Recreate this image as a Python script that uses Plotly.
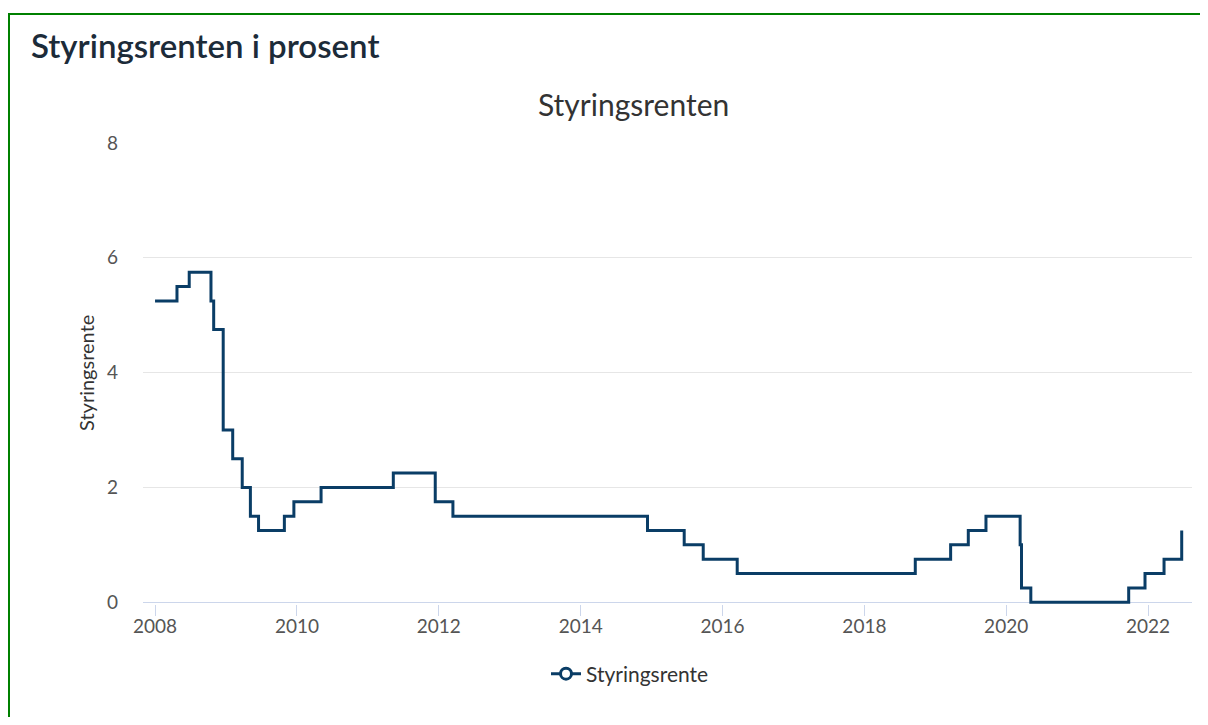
import plotly.graph_objects as go

# ---- data ----
dates = ["2008-01-01", "2008-04-23", "2008-06-25", "2008-10-15", "2008-10-29",
         "2008-12-17", "2009-02-04", "2009-03-25", "2009-05-06", "2009-06-17",
         "2009-10-28", "2009-12-16", "2010-05-05", "2011-05-12", "2011-12-14",
         "2012-03-14", "2014-12-11", "2015-06-18", "2015-09-24", "2016-03-17",
         "2018-09-20", "2019-03-21", "2019-06-20", "2019-09-19", "2020-03-13",
         "2020-03-20", "2020-05-07", "2021-09-23", "2021-12-16", "2022-03-24",
         "2022-06-23"]
rates = [5.25, 5.5, 5.75, 5.25, 4.75,
         3.0, 2.5, 2.0, 1.5, 1.25,
         1.5, 1.75, 2.0, 2.25, 1.75,
         1.5, 1.25, 1.0, 0.75, 0.5,
         0.75, 1.0, 1.25, 1.5, 1.0,
         0.25, 0.0, 0.25, 0.5, 0.75,
         1.25]
series_name = "Styringsrente"
y_ticks = [0, 2, 4, 6, 8]
x_tick_years = ["2008", "2010", "2012", "2014", "2016", "2018", "2020", "2022"]

# ---- geometry (page pixels; body has 8px default margin) ----
OFF = 8
W, H = 1208 - 2 * OFF, 725 - 2 * OFF
L, T, R, B = 143 - OFF, 143 - OFF, 1192 - OFF, 604 - OFF


def px(xp):
    return (xp - OFF - L) / (R - L)


def py(yp):
    return (B - (yp - OFF)) / (B - T)


NAVY = "#0a3d66"
FONT = "Lato"

fig = go.Figure()
fig.add_trace(go.Scatter(
    x=dates, y=rates, mode="lines", line=dict(color=NAVY, width=3, shape="hv"),
    showlegend=False, name=series_name, hoverinfo="x+y"))
fig.add_trace(go.Scatter(
    x=[None], y=[None], mode="lines+markers", name=series_name,
    line=dict(color=NAVY, width=3),
    marker=dict(symbol="circle", size=11, color="white",
                line=dict(color=NAVY, width=3))))

fig.update_layout(
    width=W, height=H,
    margin=dict(l=L, r=W - R, t=T, b=H - B, pad=0),
    paper_bgcolor="white", plot_bgcolor="white",
    font=dict(family=FONT, color="#333333"),
    showlegend=True,
    legend=dict(orientation="h", x=px(630), y=py(674), xanchor="center", yanchor="middle",
                font=dict(size=21, color="#333333"), bgcolor="rgba(0,0,0,0)"),
    xaxis=dict(type="date", range=["2007-10-31", "2022-08-15"],
               tickvals=[y + "-01-01" for y in x_tick_years], ticktext=x_tick_years,
               showgrid=False, showline=False, zeroline=False,
               ticks="outside", ticklen=11, tickcolor="#ccd6eb", tickwidth=1,
               ticklabelstandoff=-6,
               tickfont=dict(size=19, color="#555555")),
    yaxis=dict(range=[-0.03, 8], tickvals=y_ticks, showgrid=True, gridcolor="#e6e6e6",
               gridwidth=1, zeroline=True, zerolinecolor="#ccd6eb", zerolinewidth=1,
               showline=False, ticks="", ticklabelstandoff=24,
               tickfont=dict(size=19, color="#555555")),
)

annotations = [
    dict(text="Styringsrenten i prosent", x=px(29), y=py(45), xref="paper", yref="paper",
         xanchor="left", yanchor="middle", showarrow=False,
         font=dict(size=33, color="#1c2b39", family=FONT, weight=600)),
    dict(text="Styringsrenten", x=px(633), y=py(104), xref="paper", yref="paper",
         xanchor="center", yanchor="middle", showarrow=False,
         font=dict(size=30, color="#333333", family=FONT)),
    dict(text="Styringsrente", x=px(86), y=py(373), xref="paper", yref="paper",
         xanchor="center", yanchor="middle", showarrow=False, textangle=-90,
         font=dict(size=20, color="#333333", family=FONT)),
]
fig.update_layout(annotations=annotations)

# green frame around the card
fig.add_shape(type="rect", xref="paper", yref="paper",
              x0=px(9), y0=py(760), x1=px(1250), y1=py(14),
              line=dict(color="#008000", width=2), fillcolor="rgba(0,0,0,0)", layer="below")

fig.write_html("out.html")
